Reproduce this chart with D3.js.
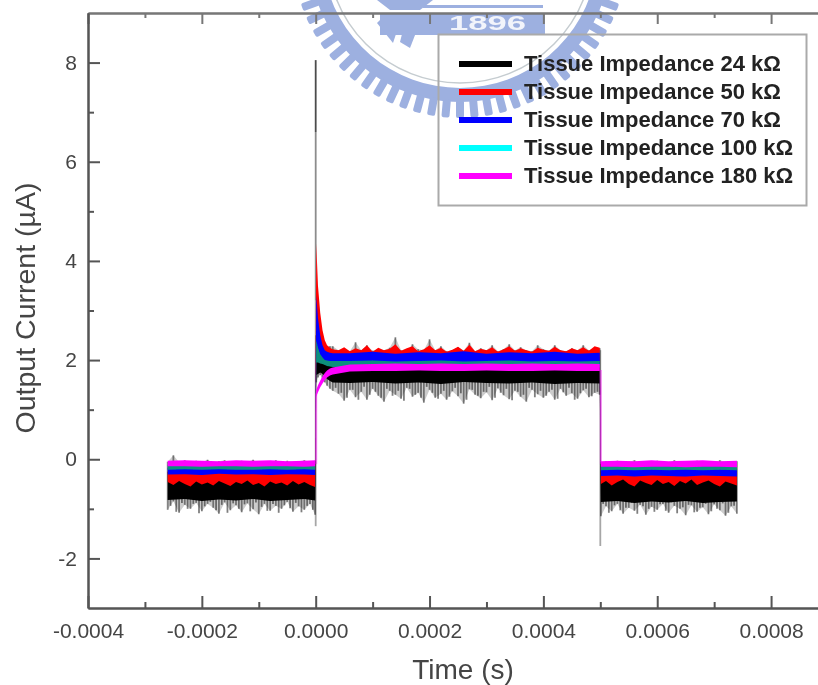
<!DOCTYPE html>
<meta charset="utf-8">
<style>
body { margin: 0; background: #fff; }
svg { display: block; }
text { font-family: "Liberation Sans", Arial, sans-serif; }
.tick text { font-size: 21px; fill: #444; }
.axis path, .axis line { stroke: #555; stroke-width: 2px; }
.axis-top path, .axis-top line { stroke: #777; }
.title { fill: #444; }
.legend-text { font-size: 22px; font-weight: bold; fill: #222; }
</style>
<body>
<script src="https://cdnjs.cloudflare.com/ajax/libs/d3/7.8.5/d3.min.js"></script>
<script>

var width = 818,
    height = 685;

// tick values, x in seconds, y in uA
var xMajor = [-0.0004, -0.0002, 0, 0.0002, 0.0004, 0.0006, 0.0008];
var xMinor = [-0.0003, -0.0001, 0.0001, 0.0003, 0.0005, 0.0007, 0.0009];
var xLabels = ["-0.0004", "-0.0002", "0.0000", "0.0002", "0.0004", "0.0006", "0.0008"];
var yMajor = [-2, 0, 2, 4, 6, 8];
var yMinor = [-1, 1, 3, 5, 7];
var yLabels = ["-2", "0", "2", "4", "6", "8"];

var legendNames = ["Tissue Impedance 24 k\u03a9", "Tissue Impedance 50 k\u03a9", "Tissue Impedance 70 k\u03a9",
    "Tissue Impedance 100 k\u03a9", "Tissue Impedance 180 k\u03a9"];
var legendColors = ["#000", "#f00", "#00f", "#0ff", "#f0f"];

// sample times in microseconds
var timeFine = [
  -260,-250,-240,-230,-220,-210,-200,-190,-180,-170,-160,-150,-140,-130,-120,-110,-100,-90,-80,-70,-60,-50,-40,-30,-20,-10,-1,
  1,4,8,12,16,20,25,30,
  40,50,60,70,80,90,100,110,120,130,
  140,150,160,170,180,190,200,210,220,230,
  240,250,260,270,280,290,300,310,320,330,
  340,350,360,370,380,390,400,410,420,430,
  440,450,460,470,480,490,
  499,
  501,510,520,530,540,550,560,570,580,590,600,610,620,630,640,650,660,670,680,690,700,710,720,730,740];

var timeCoarse = [
  -260,-230,-200,-170,-140,-110,-80,-50,-20,-1,
  1,4,8,12,16,20,25,30,
  60,100,140,180,220,260,300,340,380,420,460,499,
  501,530,560,590,620,650,680,710,740];

// in-between samples of the 24 kOhm noise, lower side only
var timeMid = [
  -255,-245,-235,-225,-215,-205,-195,-185,-175,-165,-155,-145,-135,-125,-115,-105,-95,-85,-75,-65,-55,-45,-35,-25,-15,-5,
  35,45,55,65,75,85,95,105,115,125,
  135,145,155,165,175,185,195,205,215,225,
  235,245,255,265,275,285,295,305,315,325,
  335,345,355,365,375,385,395,405,415,425,
  435,445,455,465,475,485,495,
  505,515,525,535,545,555,565,575,585,595,605,615,625,635,645,655,665,675,685,695,705,715,725,735];
var blackMidLo = [
  -0.94,-1.06,-0.88,-1.0,-0.9,-1.09,-0.95,-0.86,-1.03,-0.92,-1.08,-0.89,-1.0,-0.91,-1.05,-0.87,-0.96,-1.04,-0.9,-1.08,-0.93,-0.99,-0.88,-1.07,-0.94,-1.02,
  1.44,1.34,1.24,1.4,1.2,1.46,1.3,1.36,1.24,1.42,
  1.28,1.38,1.18,1.42,1.3,1.24,1.46,1.34,1.22,1.38,
  1.26,1.44,1.33,1.2,1.4,1.28,1.36,1.46,1.24,1.34,
  1.42,1.19,1.36,1.3,1.44,1.25,1.38,1.28,1.4,1.22,
  1.35,1.44,1.2,1.33,1.42,1.27,1.36,
  -0.9,-1.08,-0.93,-1.03,-0.98,-0.88,-1.1,-0.95,-1.0,-1.06,-0.91,-1.04,-0.87,-1.09,-0.97,-0.92,-1.07,-0.98,-0.9,-1.05,-1.0,-0.89,-1.08,-0.94];

// 24 kOhm, thin noise envelope
var blackNoiseHi = [
  -0.05,0.08,-0.06,-0.02,-0.08,-0.03,-0.06,-0.01,-0.07,-0.04,-0.02,-0.08,-0.05,-0.03,-0.06,-0.01,-0.07,-0.04,-0.05,-0.02,-0.08,-0.03,-0.06,-0.04,-0.02,-0.05,-0.03,
  2.5,2.45,2.4,2.35,2.3,2.28,2.28,2.28,
  2.2,2.22,2.18,2.36,2.2,2.3,2.19,2.22,2.2,2.25,
  2.46,2.2,2.18,2.32,2.22,2.2,2.42,2.2,2.28,2.18,
  2.2,2.26,2.19,2.35,2.18,2.24,2.2,2.3,2.18,2.22,
  2.32,2.2,2.26,2.2,2.18,2.3,2.22,2.19,2.3,2.2,
  2.18,2.24,2.2,2.3,2.2,2.24,
  2.24,
  -0.06,-0.04,-0.07,-0.03,-0.06,-0.05,-0.02,-0.07,-0.04,-0.06,-0.03,-0.05,-0.07,-0.02,-0.06,-0.04,-0.05,-0.03,-0.07,-0.04,-0.06,-0.02,-0.05,-0.07,-0.04];
var blackNoiseLo = [
  -1.02,-0.85,-1.08,-0.92,-1.0,-0.88,-1.05,-0.9,-0.98,-1.1,-0.87,-1.03,-0.93,-1.07,-0.89,-1.01,-1.11,-0.9,-1.04,-0.94,-1.0,-0.86,-1.06,-0.95,-1.02,-0.9,-1.12,
  1.55,1.65,1.7,1.62,1.55,1.48,1.42,1.38,
  1.32,1.18,1.4,1.25,1.36,1.2,1.42,1.28,1.16,1.38,
  1.3,1.22,1.44,1.26,1.34,1.14,1.4,1.24,1.32,1.2,
  1.37,1.27,1.12,1.41,1.3,1.23,1.35,1.19,1.43,1.29,
  1.21,1.38,1.26,1.16,1.4,1.31,1.24,1.36,1.2,1.42,
  1.28,1.33,1.22,1.39,1.25,1.34,
  1.3,
  -1.15,-0.95,-1.05,-0.9,-1.1,-0.98,-1.04,-0.92,-1.12,-0.96,-1.02,-0.9,-1.08,-0.94,-1.0,-1.13,-0.93,-1.06,-0.97,-1.11,-0.91,-1.03,-1.14,-0.95,-1.1];
var blackCoreHi = [
  -0.25,-0.25,-0.25,-0.25,-0.25,-0.25,-0.25,-0.25,-0.25,-0.25,
  2.1,2.1,2.1,2.1,2.1,2.1,2.1,2.1,
  2.05,2.05,2.05,2.05,2.05,2.05,2.05,2.05,2.05,2.05,2.05,2.05,
  -0.25,-0.25,-0.25,-0.25,-0.25,-0.25,-0.25,-0.25,-0.25];
var blackCoreLo = [
  -0.82,-0.8,-0.84,-0.81,-0.83,-0.8,-0.84,-0.82,-0.8,-0.83,
  1.7,1.72,1.75,1.72,1.68,1.62,1.58,1.55,
  1.54,1.56,1.53,1.55,1.52,1.56,1.54,1.53,1.55,1.52,1.54,1.53,
  -0.86,-0.84,-0.88,-0.85,-0.87,-0.84,-0.88,-0.86,-0.85];

// 50 kOhm
var redHi = [
  -0.24,-0.22,-0.25,-0.23,-0.26,-0.22,-0.24,-0.25,-0.23,-0.22,-0.26,-0.24,-0.23,-0.25,-0.22,-0.24,-0.26,-0.23,-0.25,-0.22,-0.24,-0.23,-0.26,-0.24,-0.22,-0.25,-0.23,
  4.35,3.5,2.95,2.6,2.4,2.3,2.25,2.22,
  2.2,2.26,2.18,2.24,2.2,2.3,2.17,2.25,2.2,2.23,
  2.32,2.19,2.24,2.28,2.18,2.22,2.3,2.2,2.25,2.17,
  2.21,2.27,2.19,2.31,2.18,2.23,2.2,2.26,2.17,2.22,
  2.28,2.19,2.24,2.2,2.17,2.25,2.21,2.19,2.27,2.2,
  2.18,2.24,2.2,2.26,2.19,2.28,
  2.25,
  -0.26,-0.24,-0.27,-0.25,-0.23,-0.26,-0.28,-0.24,-0.26,-0.25,-0.27,-0.23,-0.26,-0.24,-0.28,-0.25,-0.23,-0.27,-0.24,-0.26,-0.25,-0.28,-0.24,-0.26,-0.25];
var redLo = [
  -0.46,-0.52,-0.44,-0.5,-0.55,-0.45,-0.51,-0.47,-0.53,-0.44,-0.49,-0.54,-0.46,-0.5,-0.43,-0.52,-0.48,-0.55,-0.45,-0.5,-0.47,-0.53,-0.44,-0.51,-0.46,-0.52,-0.56,
  2.1,2.1,2.05,2.0,1.98,1.96,1.95,1.95,
  1.95,1.95,1.95,1.95,1.95,1.95,1.95,1.95,1.95,1.95,
  1.95,1.95,1.95,1.95,1.95,1.95,1.95,1.95,1.95,1.95,
  1.95,1.95,1.95,1.95,1.95,1.95,1.95,1.95,1.95,1.95,
  1.95,1.95,1.95,1.95,1.95,1.95,1.95,1.95,1.95,1.95,
  1.95,1.95,1.95,1.95,1.95,1.95,
  1.95,
  -0.5,-0.44,-0.53,-0.46,-0.41,-0.5,-0.55,-0.43,-0.48,-0.52,-0.42,-0.5,-0.46,-0.54,-0.44,-0.49,-0.41,-0.52,-0.47,-0.43,-0.5,-0.55,-0.45,-0.49,-0.53];

// 70 kOhm
var blueHi = [
  -0.17,-0.18,-0.17,-0.19,-0.17,-0.18,-0.17,-0.18,-0.19,-0.17,
  3.3,2.85,2.5,2.3,2.2,2.17,2.15,2.14,
  2.14,2.17,2.13,2.16,2.14,2.18,2.13,2.16,2.14,2.17,2.13,2.15,
  -0.18,-0.19,-0.18,-0.2,-0.18,-0.19,-0.18,-0.2,-0.19];
var blueLo = [
  -0.31,-0.3,-0.32,-0.29,-0.31,-0.3,-0.32,-0.3,-0.31,-0.32,
  2.0,1.98,1.96,1.94,1.92,1.9,1.9,1.9,
  1.9,1.9,1.9,1.9,1.9,1.9,1.9,1.9,1.9,1.9,1.9,1.9,
  -0.34,-0.33,-0.35,-0.33,-0.34,-0.35,-0.33,-0.34,-0.35];

// 100 kOhm, looks teal in the plot but cyan in the legend
var cyanHi = [
  -0.11,-0.12,-0.11,-0.12,-0.11,-0.12,-0.11,-0.12,-0.11,-0.12,
  2.4,2.25,2.12,2.05,2.0,1.99,1.98,1.98,
  1.98,1.99,1.97,1.98,1.99,1.97,1.98,1.99,1.97,1.98,1.97,1.98,
  -0.12,-0.13,-0.12,-0.13,-0.12,-0.13,-0.12,-0.13,-0.12];
var cyanLo = [
  -0.21,-0.2,-0.21,-0.2,-0.21,-0.21,-0.2,-0.21,-0.2,-0.21,
  1.95,1.95,1.93,1.92,1.9,1.88,1.87,1.86,
  1.85,1.85,1.85,1.85,1.85,1.85,1.85,1.85,1.85,1.85,1.85,1.85,
  -0.22,-0.21,-0.22,-0.21,-0.22,-0.21,-0.22,-0.21,-0.22];

// 180 kOhm
var magentaHi = [
  -0.03,-0.02,-0.03,-0.04,-0.02,-0.03,-0.02,-0.04,-0.03,-0.02,
  1.4,1.49,1.59,1.67,1.74,1.79,1.83,1.85,
  1.91,1.92,1.93,1.92,1.93,1.92,1.93,1.92,1.93,1.92,1.93,1.92,
  -0.04,-0.03,-0.04,-0.02,-0.04,-0.03,-0.02,-0.04,-0.03];
var magentaLo = [
  -0.14,-0.14,-0.15,-0.14,-0.14,-0.15,-0.14,-0.14,-0.15,-0.14,
  1.26,1.35,1.45,1.53,1.6,1.65,1.69,1.71,
  1.77,1.78,1.78,1.79,1.78,1.78,1.79,1.78,1.78,1.79,1.78,1.78,
  -0.15,-0.15,-0.16,-0.15,-0.15,-0.16,-0.15,-0.15,-0.16];

// switching spikes and edges: [time in us, from, to]
var greyEdges = [[0, -1.35, 3.2, 0.35], [0, 3.2, 6.6, 0.45], [0, 6.6, 8.05, 0.7], [500, -1.75, 2.2, 0.35]];
var paleEdges = [[0, -0.1, 1.33], [500, -0.1, 1.8]];

var x = d3.scaleLinear().domain([-0.0004, 0.0009]).range([88, 828]);
var y = d3.scaleLinear().domain([-3, 9]).range([608, 13]);

var svg = d3.select("body").append("svg")
    .attr("width", width)
    .attr("height", height);

svg.append("defs").append("filter")
    .attr("id", "soft")
    .attr("x", "-5%").attr("y", "-5%").attr("width", "110%").attr("height", "110%")
  .append("feGaussianBlur")
    .attr("stdDeviation", 0.7);

var root = svg.append("g").attr("filter", "url(#soft)");

// watermark seal behind the plot, cut by the top of the page
var seal = root.append("g")
    .attr("transform", "translate(460,-50)")
    .attr("fill", "#9db0e0");
var arc = d3.arc();
seal.append("path")
    .attr("d", arc({innerRadius: 138, outerRadius: 152, startAngle: Math.PI * 0.55, endAngle: Math.PI * 1.45}));
seal.selectAll(".tooth")
    .data(d3.range(100, 262, 5))
    .enter().append("rect")
    .attr("class", "tooth")
    .attr("x", -4).attr("width", 8)
    .attr("y", -168).attr("height", 18)
    .attr("rx", 2)
    .attr("transform", function(d) { return "rotate(" + d + ")"; });
seal.append("circle")
    .attr("r", 133).attr("fill", "none")
    .attr("stroke", "#c5ccd0").attr("stroke-width", 1.5);
seal.append("rect").attr("x", -80).attr("y", 64).attr("width", 165).attr("height", 21);
seal.append("rect").attr("x", -37).attr("y", 55).attr("width", 120).attr("height", 3);
seal.append("path").attr("d", "M-83,50L-27,50L-40,60L-70,60Z");
seal.append("path").attr("d", "M-83,73L-67,93L-62,78L-75,65Z");
seal.append("path").attr("d", "M-57,80L-43,80L-50,98L-60,92Z");
seal.append("text")
    .attr("x", -11).attr("y", 80)
    .attr("textLength", 77)
    .attr("lengthAdjust", "spacingAndGlyphs")
    .attr("fill", "#f2f4fb")
    .style("font-size", "21px").style("font-weight", "bold")
    .text("1896");

// traces, drawn in legend order so the higher impedance sits on top
var area = d3.area()
    .x(function(d) { return x(d[0] / 1e6); })
    .y0(function(d) { return y(d[2]); })
    .y1(function(d) { return y(d[1]); });

function drawBand(time, hi, lo, color, opacity) {
  root.append("path")
      .datum(time.map(function(t, i) { return [t, hi[i], lo[i]]; }))
      .attr("fill", color)
      .attr("fill-opacity", opacity)
      .attr("d", area);
}

root.selectAll(".edge")
    .data(greyEdges)
    .enter().append("line")
    .attr("class", "edge")
    .attr("x1", function(d) { return x(d[0] / 1e6); })
    .attr("x2", function(d) { return x(d[0] / 1e6); })
    .attr("y1", function(d) { return y(d[1]); })
    .attr("y2", function(d) { return y(d[2]); })
    .attr("stroke", "#000")
    .attr("stroke-opacity", function(d) { return d[3]; })
    .attr("stroke-width", 1.8);

// noise hairs: one thin stroke per sample, over a faint envelope
drawBand(timeFine, blackNoiseHi, blackNoiseLo, "#000", 0.2);
root.selectAll(".hair")
    .data(timeFine)
    .enter().append("line")
    .attr("class", "hair")
    .attr("x1", function(d) { return x(d / 1e6); })
    .attr("x2", function(d) { return x(d / 1e6); })
    .attr("y1", function(d, i) { return y(blackNoiseHi[i]); })
    .attr("y2", function(d, i) { return y(blackNoiseLo[i]); })
    .attr("stroke", "#000")
    .attr("stroke-opacity", 0.45)
    .attr("stroke-width", 1.8);
root.selectAll(".hair-mid")
    .data(timeMid)
    .enter().append("line")
    .attr("class", "hair-mid")
    .attr("x1", function(d) { return x(d / 1e6); })
    .attr("x2", function(d) { return x(d / 1e6); })
    .attr("y1", function(d, i) { return y(blackMidLo[i] + 0.5); })
    .attr("y2", function(d, i) { return y(blackMidLo[i]); })
    .attr("stroke", "#000")
    .attr("stroke-opacity", 0.5)
    .attr("stroke-width", 1.8);
drawBand(timeCoarse, blackCoreHi, blackCoreLo, "#000", 1);
drawBand(timeFine, redHi, redLo, "#f00", 1);
drawBand(timeCoarse, blueHi, blueLo, "#00f", 1);
drawBand(timeCoarse, cyanHi, cyanLo, "#0e8f7c", 1);
drawBand(timeCoarse, magentaHi, magentaLo, "#f0f", 1);

root.selectAll(".pale")
    .data(paleEdges)
    .enter().append("line")
    .attr("class", "pale")
    .attr("x1", function(d) { return x(d[0] / 1e6) + 0.5; })
    .attr("x2", function(d) { return x(d[0] / 1e6) + 0.5; })
    .attr("y1", function(d) { return y(d[1]); })
    .attr("y2", function(d) { return y(d[2]); })
    .attr("stroke", "#f0f")
    .attr("stroke-opacity", 0.45)
    .attr("stroke-width", 2);

// axes, all ticks point inward
var bottom = 608, left = 88, top_ = 13;

function addAxis(cls, transform, axis) {
  return root.append("g").attr("class", "axis " + cls).attr("transform", transform).call(axis);
}

addAxis("axis-x", "translate(0," + bottom + ")",
    d3.axisBottom(x).tickValues(xMajor).tickSize(-12).tickSizeOuter(0).tickPadding(15)
      .tickFormat(function(d, i) { return xLabels[i]; }));
addAxis("axis-x", "translate(0," + bottom + ")",
    d3.axisBottom(x).tickValues(xMinor).tickSize(-6).tickSizeOuter(0).tickFormat(""));
addAxis("axis-top", "translate(0," + top_ + ")",
    d3.axisTop(x).tickValues(xMajor).tickSize(-11).tickSizeOuter(0).tickFormat(""));
addAxis("axis-top", "translate(0," + top_ + ")",
    d3.axisTop(x).tickValues(xMinor).tickSize(-5).tickSizeOuter(0).tickFormat(""));
addAxis("axis-y", "translate(" + left + ",0)",
    d3.axisLeft(y).tickValues(yMajor).tickSize(-12).tickSizeOuter(0).tickPadding(11)
      .tickFormat(function(d, i) { return yLabels[i]; }));
addAxis("axis-y", "translate(" + left + ",0)",
    d3.axisLeft(y).tickValues(yMinor).tickSize(-6).tickSizeOuter(0).tickFormat(""));

root.append("text")
    .attr("class", "title")
    .attr("x", 463).attr("y", 679)
    .attr("text-anchor", "middle")
    .style("font-size", "28px")
    .text("Time (s)");

root.append("text")
    .attr("class", "title")
    .attr("transform", "translate(35,308) rotate(-90)")
    .attr("text-anchor", "middle")
    .style("font-size", "28.5px")
    .text("Output Current (\u00b5A)");

// legend
var legend = root.append("g");
legend.append("rect")
    .attr("x", 438.5).attr("y", 34.5)
    .attr("width", 368).attr("height", 171)
    .attr("fill", "none")
    .attr("stroke", "#aaa")
    .attr("stroke-width", 2);

var legendRow = d3.scalePoint().domain(legendNames).range([64, 176]);

legend.selectAll("line")
    .data(legendNames)
    .enter().append("line")
    .attr("x1", 459).attr("x2", 512)
    .attr("y1", function(d) { return legendRow(d); })
    .attr("y2", function(d) { return legendRow(d); })
    .attr("stroke", function(d, i) { return legendColors[i]; })
    .attr("stroke-width", 6);

legend.selectAll("text")
    .data(legendNames)
    .enter().append("text")
    .attr("class", "legend-text")
    .attr("x", 524)
    .attr("y", function(d) { return legendRow(d) + 7; })
    .text(function(d) { return d; });

</script>
